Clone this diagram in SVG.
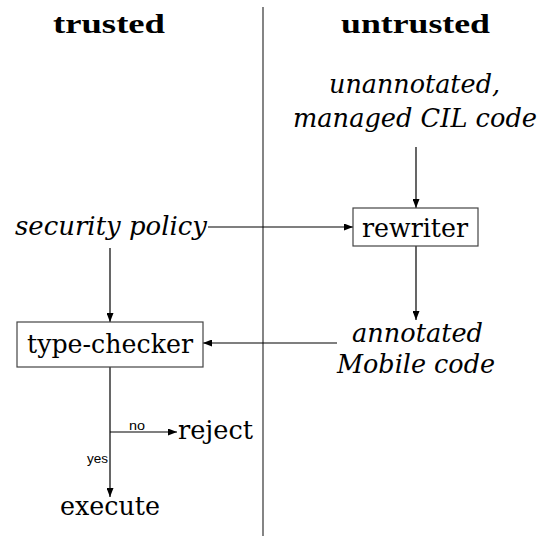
<svg xmlns="http://www.w3.org/2000/svg" width="545" height="536" viewBox="0 0 545 536">
<defs>
<marker id="ah" markerWidth="9" markerHeight="7" refX="9" refY="3.5" orient="auto" markerUnits="userSpaceOnUse">
<path d="M0,0 L9,3.5 L0,7 Z" fill="#000"/>
</marker>
<style>
.t{font-size:26px;fill:#000}
.i{font-style:italic}
.b{font-weight:bold;font-size:28px}
.s{font-size:13px;fill:#000}
.box{fill:#fff;stroke:#444;stroke-width:1.2}
.c{stroke:#000;stroke-width:1.2;fill:none}
.div{stroke:#666;stroke-width:1.6}
</style>
</defs>
<rect width="545" height="536" fill="#fff"/>
<line class="div" x1="263" y1="7" x2="263" y2="536"/>
<g font-family="DejaVu Serif, serif">
<g id="title-trusted"><text class="t b" font-family="Liberation Serif, serif" x="53" y="33" textLength="112" lengthAdjust="spacingAndGlyphs">trusted</text></g>
<g id="title-untrusted"><text class="t b" font-family="Liberation Serif, serif" x="341" y="33" textLength="149" lengthAdjust="spacingAndGlyphs">untrusted</text></g>
<g id="connectors">
<line class="c" x1="416" y1="147" x2="416" y2="208" marker-end="url(#ah)"/>
<line class="c" x1="208" y1="227" x2="353" y2="227" marker-end="url(#ah)"/>
<line class="c" x1="110" y1="248" x2="110" y2="322" marker-end="url(#ah)"/>
<line class="c" x1="416" y1="246" x2="416" y2="320" marker-end="url(#ah)"/>
<line class="c" x1="337" y1="343" x2="203" y2="343" marker-end="url(#ah)"/>
<line class="c" x1="110" y1="367" x2="110" y2="497" marker-end="url(#ah)"/>
<line class="c" x1="110" y1="432" x2="177" y2="432" marker-end="url(#ah)"/>
<text class="s" font-family="Liberation Sans, DejaVu Sans, sans-serif" x="129" y="430" textLength="16" lengthAdjust="spacingAndGlyphs">no</text>
<text class="s" font-family="Liberation Sans, DejaVu Sans, sans-serif" x="87" y="463" textLength="21" lengthAdjust="spacingAndGlyphs">yes</text>
</g>
<g id="cil-code">
<text class="t i" x="329" y="93" textLength="171" lengthAdjust="spacingAndGlyphs">unannotated,</text>
<text class="t i" x="293" y="127" textLength="244" lengthAdjust="spacingAndGlyphs">managed CIL code</text>
</g>
<g id="security-policy"><text class="t i" x="15" y="235" textLength="192" lengthAdjust="spacingAndGlyphs">security policy</text></g>
<g id="rewriter">
<rect class="box" x="353" y="208" width="125" height="38"/>
<text class="t" x="362" y="237" textLength="106" lengthAdjust="spacingAndGlyphs">rewriter</text>
</g>
<g id="type-checker">
<rect class="box" x="17" y="322" width="186" height="45"/>
<text class="t" x="27" y="353" textLength="166" lengthAdjust="spacingAndGlyphs">type-checker</text>
</g>
<g id="mobile-code">
<text class="t i" x="352" y="342" textLength="131" lengthAdjust="spacingAndGlyphs">annotated</text>
<text class="t i" x="337" y="373" textLength="158" lengthAdjust="spacingAndGlyphs">Mobile code</text>
</g>
<g id="reject"><text class="t" x="178" y="439" textLength="75" lengthAdjust="spacingAndGlyphs">reject</text></g>
<g id="execute"><text class="t" x="60" y="515" textLength="100" lengthAdjust="spacingAndGlyphs">execute</text></g>
</g>
</svg>
